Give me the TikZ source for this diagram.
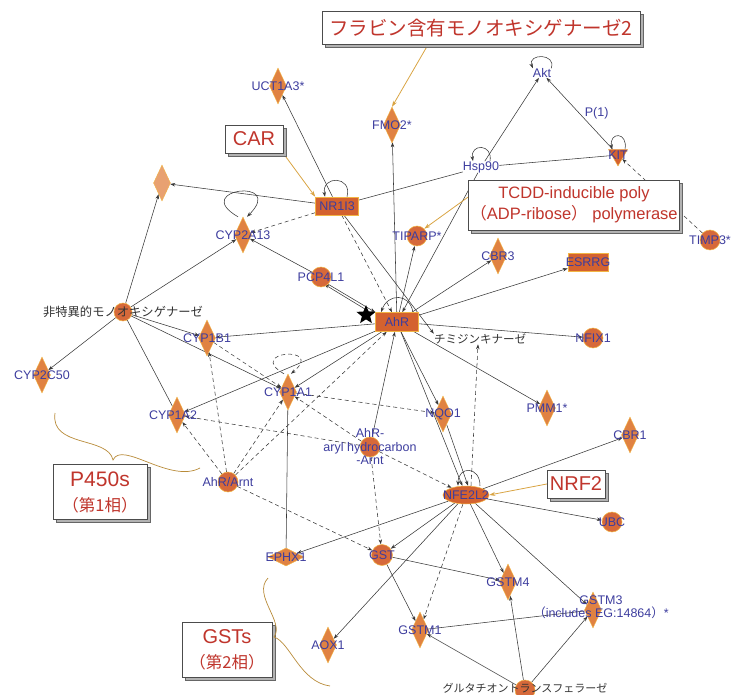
\documentclass[tikz,border=0pt]{standalone}
\usepackage{fontspec}
\setmainfont{Liberation Sans}
\newfontfamily\jp{Noto Sans CJK JP}
\usetikzlibrary{shapes.geometric,arrows.meta,shadows}
\definecolor{nodeor}{HTML}{E08242}
\definecolor{circor}{HTML}{D6693A}
\definecolor{rector}{HTML}{D4622F}
\definecolor{rimyl}{HTML}{F2B544}
\definecolor{lblblue}{HTML}{3D3D9E}
\definecolor{notered}{HTML}{C0352C}
\definecolor{notearr}{HTML}{D9A443}
\definecolor{edgegray}{HTML}{383838}
\pgfdeclarelayer{background}
\pgfsetlayers{background,main}

\begin{document}
\begin{tikzpicture}[
  x=1pt, y=-1pt,
  font=\fontsize{11}{12}\selectfont,
  lbl/.style={text=lblblue, inner sep=0pt, align=center, font=\fontsize{12.5}{13.5}\selectfont},
  jlbl/.style={text=black!80, inner sep=0pt, font=\jp\fontsize{12.3}{13}\selectfont},
  txt/.style={inner sep=1pt},
  dia/.style={diamond, fill=nodeor, draw=rimyl, line width=0.4pt, minimum width=17, minimum height=36, inner sep=0pt},
  circ/.style={circle, fill=circor, draw=rimyl, line width=0.5pt, minimum size=20, inner sep=0pt},
  gene/.style={rectangle, fill=rector, draw=rimyl, line width=0.5pt, minimum width=43, minimum height=18, inner sep=0pt},
  kin/.style={regular polygon, regular polygon sides=3, shape border rotate=180, fill=rector, draw=rimyl, line width=0.4pt, minimum size=22, inner sep=0pt},
  note/.style={draw=black!70, fill=white, text=notered, align=center, inner sep=2pt,
               copy shadow={shadow xshift=3pt, shadow yshift=-3pt, fill=gray!60, draw=gray!80!black}},
  arr/.style={draw=edgegray, line width=0.55pt, -{Stealth[length=5pt, width=3.5pt]}},
  lnk/.style={draw=edgegray, line width=0.55pt},
  darr/.style={arr, dash pattern=on 4pt off 3pt},
  notearrow/.style={draw=notearr, line width=0.8pt, -{Stealth[length=6pt, width=4pt]}},
  brace/.style={draw=notearr!85!black, line width=0.7pt},
]
\useasboundingbox (0,0) rectangle (731,695);

% annotations
\node[note, minimum width=318, minimum height=33, font=\jp\fontsize{19.5}{22}\selectfont] (fmonote) at (481,28) {フラビン含有モノオキシゲナーゼ2};
\node[note, minimum width=58, minimum height=28, font=\fontsize{20}{22}\selectfont] (carnote) at (254,139) {CAR};
\node[note, minimum width=195, minimum height=50, font=\fontsize{16.5}{21}\selectfont] (tcddnote) at (574,205) {TCDD-inducible poly\\{\jp（}ADP-ribose{\jp）} polymerase};
\node[note, minimum width=58, minimum height=28, font=\fontsize{20}{22}\selectfont] (nrf2note) at (576,484) {NRF2};
\node[note, minimum width=94, minimum height=55, font=\fontsize{21}{25}\selectfont] (p450note) at (100,492) {P450s\\{\jp\fontsize{16.5}{20}\selectfont（第1相）}};
\node[note, minimum width=90, minimum height=55, font=\fontsize{20}{25}\selectfont] (gstnote) at (227,650) {GSTs\\{\jp\fontsize{16.5}{20}\selectfont（第2相）}};

% molecules
\node[txt, lbl] (akt) at (542,73) {Akt};
\node[txt, lbl] (hsp90) at (481,167) {Hsp90};
\node[kin, label={[lbl]center:KIT}] (kit) at (618,155) {};
\node[dia, label={[lbl]center:UCT1A3*}] (ugt) at (278,86) {};
\node[dia, label={[lbl]center:FMO2*}] (fmo2) at (392,125) {};
\node[dia, fill=nodeor!75] (unk) at (162,183) {};
\node[gene, label={[lbl]center:NR1I3}] (nr1i3) at (337,206) {};
\node[dia, label={[lbl]center:CYP2A13}] (cyp2a13) at (243,235) {};
\node[circ, label={[lbl]center:TIPARP*}] (tiparp) at (417,236) {};
\node[dia, label={[lbl]center:CBR3}] (cbr3) at (498,256) {};
\node[gene, minimum width=40, label={[lbl]center:ESRRG}] (esrrg) at (588,262) {};
\node[circ, label={[lbl]center:TIMP3*}] (timp3) at (710,240) {};
\node[circ, label={[lbl]center:PCP4L1}] (pcp4l1) at (321,277) {};
\node[star, star points=5, star point ratio=2.3, fill=black, minimum size=20, inner sep=0pt] (mark) at (366,315) {};
\node[gene, minimum height=19, label={[lbl]center:AhR}] (ahr) at (397,322) {};
\node[txt, jlbl, font=\jp\fontsize{11.5}{12}\selectfont] (tk) at (480,339) {チミジンキナーゼ};
\node[circ, label={[lbl]center:NFIX1}] (nfix1) at (593,338) {};
\node[circ, minimum size=18, label={[jlbl]center:非特異的モノオキシゲナーゼ}] (mono) at (123,312) {};
\node[dia, label={[lbl]center:CYP1B1}] (cyp1b1) at (207,338) {};
\node[dia, label={[lbl]center:CYP2C50}] (cyp2c50) at (42,375) {};
\node[dia, label={[lbl]center:CYP1A1}] (cyp1a1) at (288,392) {};
\node[dia, label={[lbl, xshift=-4pt]center:CYP1A2}] (cyp1a2) at (177,415) {};
\node[dia, label={[lbl]center:NQO1}] (nqo1) at (443,414) {};
\node[dia, label={[lbl]center:PMM1*}] (pmm1) at (547,408) {};
\node[circ, label={[lbl]center:{AhR-\\aryl hydrocarbon\\-Arnt}}] (ahrarnt) at (370,447) {};
\node[dia, label={[lbl]center:CBR1}] (cbr1) at (630,435) {};
\node[circ, label={[lbl]center:AhR/Arnt}] (arnt) at (228,482) {};
\node[ellipse, fill=rector, draw=rimyl, line width=0.5pt, minimum width=46, minimum height=18, inner sep=0pt,
      label={[lbl]center:NFE2L2}] (nfe2l2) at (466,495) {};
\node[circ, label={[lbl]center:UBC}] (ubc) at (612,522) {};
\node[dia, minimum width=36, minimum height=18, label={[lbl]center:EPHX1}] (ephx1) at (286,557) {};
\node[circ, minimum size=21, label={[lbl]center:GST}] (gst) at (382,555) {};
\node[dia, label={[lbl]center:GSTM4}] (gstm4) at (508,582) {};
\node[dia, label={[lbl, xshift=8pt, yshift=3pt]center:{GSTM3\\{\jp（}includes EG:14864{\jp）}*}}] (gstm3) at (593,610) {};
\node[dia, label={[lbl]center:GSTM1}] (gstm1) at (420,630) {};
\node[dia, label={[lbl]center:AOX1}] (aox1) at (328,645) {};
\node[circ, label={[jlbl, font=\jp\fontsize{11}{12}\selectfont, yshift=2pt]center:グルタチオントランスフェラーゼ}] (gluta) at (525,690) {};

\begin{pgfonlayer}{background}
% top
\draw[arr] (hsp90) -- (akt);
\draw[arr] (kit) -- node[lbl, midway, right=5pt] {P(1)} (akt);
\draw[lnk] (hsp90) -- (kit);
\draw[lnk] (nr1i3) -- (hsp90);
\draw[darr] (timp3) -- (kit);
\draw[arr] (hsp90) -- (ahr);
\draw[arr] (nr1i3) -- (ugt);
\draw[arr] (nr1i3) -- (unk);
\draw[darr] (nr1i3) -- (cyp2a13);
\draw[darr] (nr1i3) -- (ahr);
\draw[arr] (nr1i3) -- (tk.north west);
% self loops
\draw[arr] (akt.north east) to[out=70, in=110, min distance=16] (akt.north west);
\draw[arr] ([xshift=9pt]hsp90.north) to[out=80, in=100, min distance=18] ([xshift=-8pt]hsp90.north);
\draw[arr] ([xshift=7pt]kit.north) to[out=80, in=100, min distance=18] ([xshift=-6pt]kit.north);
\draw[arr] ([xshift=10pt]nr1i3.north) to[out=75, in=100, min distance=22] ([xshift=-12pt]nr1i3.north);
\draw[arr] ([xshift=-5pt]cyp2a13.north) to[out=150, in=45, min distance=56] ([xshift=4pt]cyp2a13.north);
\draw[arr] ([xshift=16pt]ahr.north) to[out=100, in=70, min distance=20] ([xshift=-16pt]ahr.north);
\draw[darr] ([xshift=-4pt]cyp1a1.north) to[out=150, in=40, min distance=45] ([xshift=3pt]cyp1a1.north);
\draw[arr] ([xshift=14pt]nfe2l2.north) to[out=90, in=90, min distance=20] ([xshift=-8pt]nfe2l2.north);
% AhR
\draw[arr] (ahr) -- (fmo2);
\draw[arr] (ahr) -- (tiparp);
\draw[arr] (ahr) -- (cbr3);
\draw[arr] (ahr) -- (esrrg);
\draw[arr] (ahr) -- (nfix1);
\draw[arr] (ahr) -- (pmm1);
\draw[arr] ([xshift=4pt]ahr.south) -- (nqo1);
\draw[arr] (ahr) -- (nfe2l2);
\draw[arr] (nqo1) -- ([xshift=2pt]nfe2l2.north);
\draw[arr] (ahr) -- (cyp1b1);
\draw[arr] (ahr) -- (cyp1a2);
\draw[arr] (ahr) -- (cyp1a1);
\draw[arr] (ahrarnt) -- (ahr);
\draw[arr] (pcp4l1.south east) -- (ahr.north west);
\draw[arr] ([xshift=-5pt]ahr.north west) -- ([xshift=-4pt]pcp4l1.south east);
\draw[arr] (pcp4l1) -- (cyp2a13);
\draw[darr] (arnt) -- (ahr);
% monooxygenase
\draw[arr] (mono) -- (unk);
\draw[arr] (mono) -- (cyp2a13);
\draw[arr] (mono) -- (cyp1b1);
\draw[arr] (mono) -- (cyp1a1);
\draw[arr] (mono) -- (cyp2c50);
\draw[lnk] (mono) -- (cyp1a2);
% P450 dashed
\draw[darr] (cyp1b1) -- (cyp1a1);
\draw[darr] (arnt) -- (cyp1a2);
\draw[darr] (arnt) -- (cyp1b1);
\draw[darr] (arnt) -- (cyp1a1);
\draw[darr] (arnt) -- (gst);
\draw[darr] (ahrarnt) -- (cyp1a1);
\draw[darr] (ahrarnt) -- (cyp1a2);
\draw[darr] (ahrarnt) -- (nfe2l2);
\draw[darr] (ahrarnt) -- (gst);
\draw[darr] (cyp1a1) -- (nqo1);
\draw[lnk] (cyp1a1) -- (ephx1);
\draw[darr] ([xshift=5pt]nfe2l2.north) -- ([xshift=-2pt]tk.south);
% NRF2
\draw[arr] (nfe2l2) -- (cbr1);
\draw[arr] (nfe2l2) -- (ubc);
\draw[arr] (nfe2l2) -- (gstm3);
\draw[arr] (nfe2l2) -- (gstm4);
\draw[darr] (nfe2l2) -- (gstm1);
\draw[arr] (nfe2l2) -- (gst);
\draw[arr] (nfe2l2) -- (aox1);
\draw[arr] (nfe2l2) -- (ephx1);
\draw[arr] (gst) -- (gstm4);
\draw[arr] (gst) -- (gstm1);
\draw[lnk] (gstm1) -- (gstm3);
\draw[arr] (gluta) -- (gstm1);
\draw[arr] (gluta) -- (gstm4);
\draw[arr] (gluta) -- (gstm3);
% annotation pointers
\draw[notearrow] ([xshift=-53pt]fmonote.south) -- (fmo2.north);
\draw[notearrow] (carnote.south east) -- (nr1i3.north west);
\draw[notearrow] ([yshift=8pt]tcddnote.west) -- (tiparp.north east);
\draw[notearrow] (nrf2note.west) -- (nfe2l2.east);
\end{pgfonlayer}

% braces
\draw[brace] (55,413) .. controls (50,448) and (108,436) .. (113,460) .. controls (122,440) and (170,484) .. (200,468);
\draw[brace] (268,578) .. controls (252,595) and (285,622) .. (274,637) .. controls (290,642) and (300,682) .. (330,686);
\end{tikzpicture}
\end{document}
